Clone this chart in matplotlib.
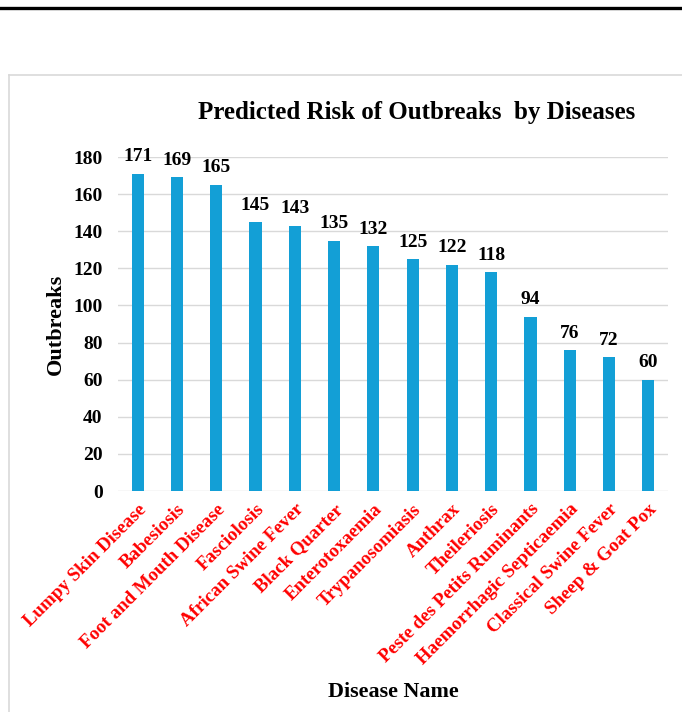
import matplotlib
matplotlib.use("Agg")
import matplotlib.pyplot as plt
from matplotlib.lines import Line2D

diseases = [
    "Lumpy Skin Disease", "Babesiosis", "Foot and Mouth Disease", "Fasciolosis",
    "African Swine Fever", "Black Quarter", "Enterotoxaemia", "Trypanosomiasis",
    "Anthrax", "Theileriosis", "Peste des Petits Ruminants",
    "Haemorrhagic Septicaemia", "Classical Swine Fever", "Sheep & Goat Pox",
]
outbreaks = [171, 169, 165, 145, 143, 135, 132, 125, 122, 118, 94, 76, 72, 60]
yticks = [0, 20, 40, 60, 80, 100, 120, 140, 160, 180]

plt.rcParams["font.family"] = ["Liberation Serif", "DejaVu Serif"]
plt.rcParams["font.weight"] = "bold"

W, H = 682, 712
fig = plt.figure(figsize=(W / 100, H / 100), dpi=100)

# page rule and chart frame
fig.add_artist(Line2D([0, 1], [1 - 8 / H, 1 - 8 / H], color="black", lw=2.4,
                      transform=fig.transFigure))
fig.add_artist(Line2D([8.5 / W, 8.5 / W], [0, 1 - 75 / H], color="#d9d9d9", lw=1.2,
                      transform=fig.transFigure))
fig.add_artist(Line2D([8.5 / W, 1], [1 - 75 / H, 1 - 75 / H], color="#d9d9d9", lw=1.2,
                      transform=fig.transFigure))

ax = fig.add_axes([118 / W, 1 - 491 / H, 550 / W, (491 - 157) / H])
x = list(range(len(diseases)))
ax.bar(x, outbreaks, width=0.31, color="#139FD6", zorder=3)
ax.set_xlim(-0.5, len(diseases) - 0.5)
ax.set_ylim(0, 180)
ax.set_yticks(yticks)
ax.set_yticklabels([str(v) for v in yticks], fontsize=14, fontweight="bold")
ax.yaxis.grid(True, color="#d9d9d9", lw=1, zorder=0)
ax.set_axisbelow(True)
for s in ax.spines.values():
    s.set_visible(False)
ax.tick_params(axis="both", length=0)
ax.tick_params(axis="y", pad=11)
ax.set_xticks(x)
ax.set_xticklabels(diseases, rotation=45, ha="right", rotation_mode="anchor",
                   fontsize=13.6, fontweight="bold", color="#ff0000")
ax.tick_params(axis="x", pad=7)

for xi, v in zip(x, outbreaks):
    ax.annotate(str(v), (xi, v), xytext=(0, 6), textcoords="offset points",
                ha="center", va="bottom", fontsize=14, fontweight="bold")

fig.text(56 / W, 1 - 324 / H, "Outbreaks", ha="center", va="center",
         rotation=90, fontsize=16, fontweight="bold")
fig.text(393 / W, 1 - 692 / H, "Disease Name", ha="center", va="center",
         fontsize=15.8, fontweight="bold")
fig.text(417 / W, 1 - 112 / H, "Predicted Risk of Outbreaks  by Diseases",
         ha="center", va="center", fontsize=18, fontweight="bold")

fig.savefig("out.png", dpi=100)
